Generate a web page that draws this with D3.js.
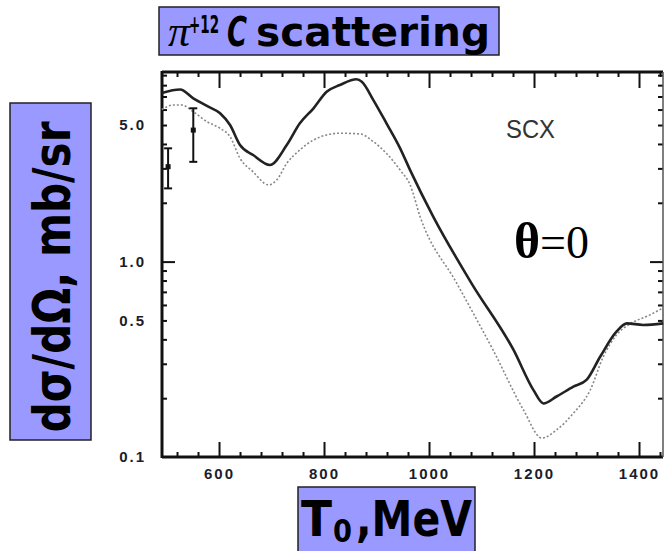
<!DOCTYPE html>
<html>
<head>
<meta charset="utf-8">
<script src="https://cdn.jsdelivr.net/npm/d3@7"></script>
<style>
  body { margin: 0; background: #fff; }
  svg { display: block; }
</style>
</head>
<body>
<svg id="chart" width="666" height="551"></svg>
<script>
// Data (T0 in MeV, dsigma/dOmega in mb/sr)
const solidT = [491, 526, 551, 577, 602, 621, 640, 665, 697, 729, 754, 780, 805, 830, 862, 872, 894, 919, 945, 964, 1008, 1081, 1161, 1199, 1218, 1243, 1275, 1300, 1326, 1357, 1377, 1408, 1446];
const solidV = [7.3, 7.6, 6.85, 6.26, 5.74, 5.0, 3.95, 3.51, 3.12, 3.95, 5.1, 6.09, 7.4, 8.01, 8.57, 8.33, 6.71, 5.1, 3.8, 2.94, 1.70, 0.774, 0.353, 0.22, 0.188, 0.204, 0.229, 0.248, 0.326, 0.438, 0.483, 0.474, 0.483];
const dotT = [491, 513, 529, 551, 577, 602, 621, 640, 665, 694, 710, 729, 754, 780, 805, 830, 869, 894, 919, 945, 964, 983, 1053, 1122, 1180, 1215, 1243, 1275, 1307, 1332, 1357, 1383, 1421, 1446];
const dotV = [6.0, 6.33, 6.33, 5.85, 5.2, 4.81, 4.36, 3.38, 2.88, 2.47, 2.62, 3.18, 3.73, 4.19, 4.45, 4.54, 4.5, 4.11, 3.58, 2.94, 2.47, 1.70, 0.774, 0.353, 0.174, 0.125, 0.1375, 0.1675, 0.22, 0.326, 0.421, 0.48, 0.534, 0.58];

// Experimental points with error bars
const errT = [503, 551];
const errV = [3.06, 4.71];
const errLo = [2.37, 3.24];
const errHi = [3.80, 6.09];

// Axis ticks
const xMajor = [600, 800, 1000, 1200, 1400];
const xMinor = d3.range(520, 1441, 40).filter(t => t % 200 !== 0);
const yLabels = [0.1, 0.5, 1, 5];
const yLabelText = ["0.1", "0.5", "1.0", "5.0"];
const yMinor = [0.2, 0.3, 0.4, 0.5, 0.6, 0.7, 0.8, 0.9, 2, 3, 4, 5, 6, 7, 8, 9];
const yMajor = [1];

// Frame of the plot
const L = 162, R = 663, T = 72, B = 457;

const svg = d3.select("#chart");

const x = d3.scaleLinear().domain([491.4, 1445.7]).range([L, R]);
const y = d3.scaleLog().domain([0.1, 9.34]).range([B, T]);

const tickFont = "'Liberation Sans', Arial, sans-serif";
const boxFont = "'DejaVu Sans', sans-serif";
const boxFill = "#9999ff";

// Title box (one text, pieces as tspans)
const titleGroup = svg.append("g");
titleGroup.append("rect")
    .attr("x", 159).attr("y", 7).attr("width", 340).attr("height", 48)
    .attr("fill", boxFill).attr("stroke", "#222").attr("stroke-width", 1.5);
const title = titleGroup.append("text")
    .attr("y", 46)
    .attr("font-family", boxFont).attr("font-weight", "bold")
    .attr("font-size", 40);
title.append("tspan")
    .attr("x", 168)
    .attr("font-family", "'Liberation Serif', serif")
    .attr("font-weight", "normal").attr("font-style", "italic")
    .attr("font-size", 44)
    .text("π");
title.append("tspan")
    .attr("x", 189).attr("y", 33)
    .attr("font-size", 24)
    .attr("textLength", 30).attr("lengthAdjust", "spacingAndGlyphs")
    .text("+12");
title.append("tspan")
    .attr("x", 227).attr("y", 46)
    .attr("font-style", "italic")
    .attr("textLength", 20).attr("lengthAdjust", "spacingAndGlyphs")
    .text("C");
title.append("tspan")
    .attr("x", 256)
    .attr("textLength", 234).attr("lengthAdjust", "spacingAndGlyphs")
    .text("scattering");

// Y label box (rotated)
const yLabGroup = svg.append("g");
yLabGroup.append("rect")
    .attr("x", 10).attr("y", 103).attr("width", 81).attr("height", 337)
    .attr("fill", boxFill).attr("stroke", "#222").attr("stroke-width", 1.5);
yLabGroup.append("text")
    .attr("transform", "translate(70,277) rotate(-90)")
    .attr("text-anchor", "middle")
    .attr("font-family", boxFont).attr("font-weight", "bold")
    .attr("font-size", 52)
    .attr("textLength", 311).attr("lengthAdjust", "spacingAndGlyphs")
    .text("dσ/dΩ, mb/sr");

// X label box
const xLabGroup = svg.append("g");
xLabGroup.append("rect")
    .attr("x", 298).attr("y", 487).attr("width", 177).attr("height", 66)
    .attr("fill", boxFill).attr("stroke", "#222").attr("stroke-width", 1.5);
const xTitle = xLabGroup.append("text")
    .attr("y", 536)
    .attr("font-family", boxFont).attr("font-weight", "bold")
    .attr("font-size", 50);
xTitle.append("tspan").attr("x", 301)
    .attr("textLength", 31).attr("lengthAdjust", "spacingAndGlyphs")
    .text("T");
xTitle.append("tspan").attr("x", 333).attr("y", 542).attr("font-size", 32)
    .attr("textLength", 19).attr("lengthAdjust", "spacingAndGlyphs")
    .text("0");
xTitle.append("tspan").attr("x", 356).attr("y", 536)
    .attr("textLength", 116).attr("lengthAdjust", "spacingAndGlyphs")
    .text(",MeV");

// Ticks (all pointing into the plot)
const tickGroup = svg.append("g").attr("stroke", "#111");
function tickAxis(axis, tr, sw) {
    const g = tickGroup.append("g").attr("transform", tr).call(axis);
    g.select(".domain").remove();
    g.selectAll("text").remove();
    g.selectAll("line").attr("stroke", "#111").attr("stroke-width", sw);
}
tickAxis(d3.axisBottom(x).tickValues(xMajor).tickSize(-15), `translate(0,${B})`, 2);
tickAxis(d3.axisBottom(x).tickValues(xMinor).tickSize(-5), `translate(0,${B})`, 2);
tickAxis(d3.axisTop(x).tickValues(xMajor).tickSize(-16), `translate(0,${T})`, 2);
tickAxis(d3.axisTop(x).tickValues(xMinor).tickSize(-5), `translate(0,${T})`, 2);
tickAxis(d3.axisLeft(y).tickValues(yMinor).tickSize(-5), `translate(${L},0)`, 2);
tickAxis(d3.axisLeft(y).tickValues(yMajor).tickSize(-13), `translate(${L},0)`, 2);
tickAxis(d3.axisRight(y).tickValues(yMinor).tickSize(-5), `translate(${R},0)`, 2);
tickAxis(d3.axisRight(y).tickValues(yMajor).tickSize(-13), `translate(${R},0)`, 2);

// Tick labels
const xLab = svg.append("g")
    .attr("transform", `translate(0,${B})`)
    .call(d3.axisBottom(x).tickValues(xMajor).tickSize(0).tickPadding(11).tickFormat(d3.format("d")));
xLab.select(".domain").remove();
xLab.selectAll("text")
    .attr("font-family", tickFont).attr("font-weight", "bold")
    .attr("font-size", 15).attr("letter-spacing", 2)
    .attr("fill", "#1c1c2a");

const yLab = svg.append("g")
    .attr("transform", `translate(${L},0)`)
    .call(d3.axisLeft(y).tickValues(yLabels).tickSize(0).tickPadding(16)
        .tickFormat((d, i) => yLabelText[i]));
yLab.select(".domain").remove();
yLab.selectAll("text")
    .attr("font-family", tickFont).attr("font-weight", "bold")
    .attr("font-size", 15).attr("letter-spacing", 2)
    .attr("fill", "#1c1c2a");

// Frame
const frame = svg.append("g").attr("fill", "none").attr("stroke", "#111");
frame.append("line").attr("x1", L).attr("x2", L).attr("y1", T - 1).attr("y2", B + 1).attr("stroke-width", 3);
frame.append("line").attr("x1", L).attr("x2", R).attr("y1", B).attr("y2", B).attr("stroke-width", 3);
frame.append("line").attr("x1", L).attr("x2", R).attr("y1", T).attr("y2", T).attr("stroke-width", 3);
frame.append("line").attr("x1", R).attr("x2", R).attr("y1", T).attr("y2", B).attr("stroke-width", 1.5).attr("stroke", "#555");

// Curves
const line = d3.line()
    .x(d => x(d[0]))
    .y(d => y(d[1]))
    .curve(d3.curveMonotoneX);

const curveGroup = svg.append("g").attr("fill", "none");
curveGroup.append("path")
    .attr("d", line(d3.zip(dotT, dotV)))
    .attr("stroke", "#888")
    .attr("stroke-width", 1.6)
    .attr("stroke-dasharray", "2,2");
curveGroup.append("path")
    .attr("d", line(d3.zip(solidT, solidV)))
    .attr("stroke", "#222")
    .attr("stroke-width", 2.6)
    .attr("stroke-linejoin", "round");

// Error bars
const errGroup = svg.append("g").attr("stroke", "#111").attr("stroke-width", 2);
errT.forEach((t, i) => {
    const cx = x(t);
    errGroup.append("line").attr("x1", cx).attr("x2", cx).attr("y1", y(errLo[i])).attr("y2", y(errHi[i]));
    errGroup.append("line").attr("x1", cx - 4).attr("x2", cx + 4).attr("y1", y(errLo[i])).attr("y2", y(errLo[i]));
    errGroup.append("line").attr("x1", cx - 4).attr("x2", cx + 4).attr("y1", y(errHi[i])).attr("y2", y(errHi[i]));
    errGroup.append("rect")
        .attr("x", cx - 2.5).attr("y", y(errV[i]) - 2.5)
        .attr("width", 5).attr("height", 5)
        .attr("fill", "#111").attr("stroke", "none");
});

// In-plot annotations
svg.append("text")
    .attr("x", 506).attr("y", 138)
    .attr("font-family", tickFont)
    .attr("font-size", 25)
    .attr("textLength", 49).attr("lengthAdjust", "spacingAndGlyphs")
    .attr("fill", "#333")
    .text("SCX");

const theta = svg.append("text")
    .attr("x", 514).attr("y", 258)
    .attr("font-family", "'Liberation Serif', serif")
    .attr("font-size", 46);
theta.append("tspan").attr("font-weight", "bold").attr("font-size", 50).text("θ");
theta.append("tspan").text("=0");
</script>
</body>
</html>
